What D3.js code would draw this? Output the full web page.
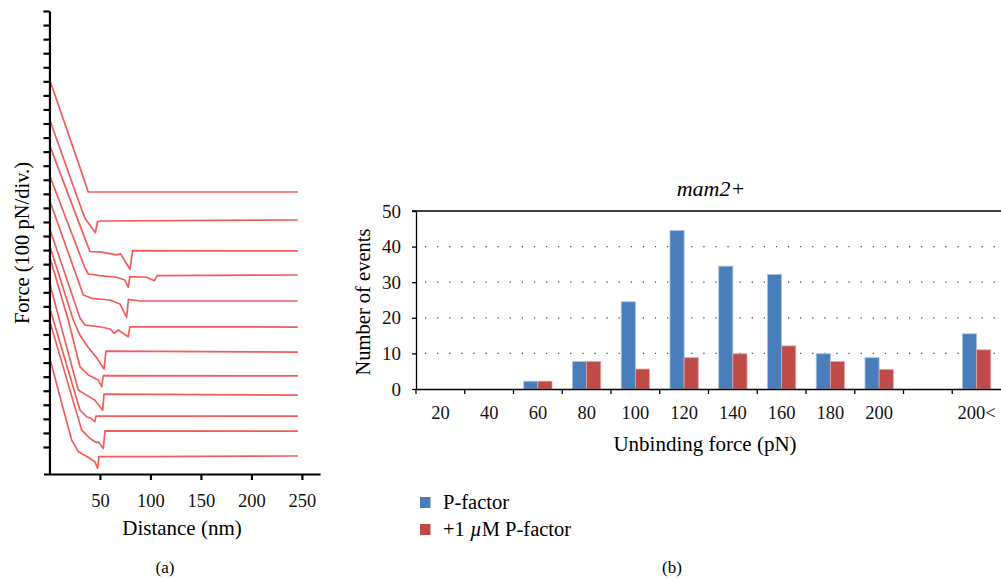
<!DOCTYPE html>
<html lang="en">
<head>
<meta charset="UTF-8">
<title>Force curves and unbinding force histogram</title>
<script src="https://d3js.org/d3.v7.min.js"></script>
<style>
    body { margin: 0; background: #fff; }
    svg { display: block; font-family: "Liberation Serif", "DejaVu Serif", serif; }
    .axis path, .axis line { stroke: #000; }
    .axis text { font-family: "Liberation Serif", serif; fill: #111; }
</style>
</head>
<body>
<svg id="chart" width="1001" height="580"></svg>
<script>
// ---- panel (a): force curves ----
const distTicks = [50, 100, 150, 200, 250];
const forceTicks = d3.range(100, 3201, 100);          // 100 pN per division
const baselines = [1913, 1714, 1494, 1323, 1138, 953, 775, 605, 469, 320, 213, 36];
// [distance nm, force pN above the curve's baseline]
const curves = [
    [[0, 804], [34, 95], [38.4, 0], [246, 0]],
    [[0, 718], [28.5, 142], [35, 14], [45.5, -90], [47.5, -14], [50, -7], [246, 0]],
    [[0, 754], [36.8, 57], [40.1, -4], [50, -7], [66.5, -28], [70.5, -21], [79.7, -130], [82.4, 2], [246, 0]],
    [[0, 711], [35.1, 50], [38.4, 7], [50, -5], [66.5, -16], [74.8, -36], [78, -87], [79.7, -12],
     [96.2, -16], [103.8, -41], [106.7, -4], [246, 0]],
    [[0, 718], [33.5, 43], [41.8, 19], [59.9, 7], [69.8, -21], [76.4, -116], [78.2, 11], [90, 0], [246, 0]],
    [[0, 704], [30.2, 64], [35.1, 14], [50, 2], [59.9, -14], [64.2, -45], [68.1, -21], [78, -69], [79.7, 2], [246, 0]],
    [[0, 761], [23.6, 228], [30.2, 121], [38.1, 36], [47, -43], [54, -121], [56, 7], [246, 0]],
    [[0, 853], [18.6, 398], [30.2, 66], [38.4, 7], [48.3, -28], [51.7, -76], [53.3, 2], [246, 0]],
    [[0, 803], [9.9, 533], [28.5, 36], [35.1, 7], [45, -36], [52.7, -107], [54, 7], [246, 0]],
    [[0, 775], [3.8, 683], [30.2, 43], [36.8, -5], [41.1, -16], [45, -40], [46, 0], [246, 0]],
    [[0, 789], [31.9, 7], [40.1, -52], [46.7, -83], [48.3, -76], [53.3, -123], [55, 2], [246, 0]],
    [[0, 706], [12.1, 375], [22, 114], [28.5, 31], [38.4, -9], [45, -41], [47.7, -87], [49, -5], [100, -5], [246, 0]]
];

// ---- panel (b): histogram ----
const forceBins = ["20", "40", "60", "80", "100", "120", "140", "160", "180", "200", "", "200<"];
const seriesNames = ["P-factor", "+1 µM P-factor"];
const pFactor = [0, 0, 2.2, 7.7, 24.5, 44.5, 34.5, 32.2, 9.9, 8.8, null, 15.5];
const pFactor1uM = [0, 0, 2.2, 7.7, 5.6, 8.8, 9.9, 12.1, 7.7, 5.5, null, 11.0];
const countTicks = [0, 10, 20, 30, 40, 50];
const gridTicks = [10, 20, 30, 40];
const colors = ["#4a7ebb", "#be4b48"];
const edgeColors = ["#a9c2e2", "#e3a3a1"];

const svg = d3.select("#chart");

// ===== (a) =====
const xDist = d3.scaleLinear().domain([-6, 268]).range([43.4, 320.1]);
const yForce = d3.scaleLinear().domain([-92, 3200]).range([474, 11]);

const gA = svg.append("g");

curves.forEach((pts, i) => {
    const line = d3.line()
        .x(d => xDist(d[0]))
        .y(d => yForce(baselines[i] + d[1]));
    gA.append("path")
        .attr("d", line(pts))
        .attr("fill", "none")
        .attr("stroke", "#f25c5c")
        .attr("stroke-width", 1.7)
        .attr("stroke-linejoin", "round");
});

gA.append("g")
    .attr("class", "axis")
    .attr("transform", `translate(${xDist(0)},0)`)
    .call(d3.axisLeft(yForce).tickValues(forceTicks).tickSize(6).tickSizeOuter(0).tickFormat(""))
    .call(g => g.selectAll("path, line").attr("stroke-width", 2.2));

gA.append("g")
    .attr("class", "axis")
    .attr("transform", `translate(0,${yForce(-92)})`)
    .call(d3.axisBottom(xDist).tickValues(distTicks).tickSize(6).tickSizeOuter(0).tickPadding(14))
    .call(g => g.selectAll("path, line").attr("stroke-width", 2.2))
    .call(g => g.selectAll("text").attr("font-size", 18.5));

gA.append("text")
    .attr("x", 182).attr("y", 535)
    .attr("text-anchor", "middle")
    .attr("font-size", 21)
    .text("Distance (nm)");

gA.append("text")
    .attr("transform", "translate(29,243) rotate(-90)")
    .attr("text-anchor", "middle")
    .attr("font-size", 20.5)
    .text("Force (100 pN/div.)");

gA.append("text")
    .attr("x", 165).attr("y", 573)
    .attr("text-anchor", "middle")
    .attr("font-size", 17)
    .text("(a)");

// ===== (b) =====
const x0 = d3.scaleBand().domain(forceBins).range([416, 1001]);
const x1 = d3.scaleBand().domain(seriesNames)
    .range([x0.bandwidth() * 0.21, x0.bandwidth() * 0.79]);
const yCount = d3.scaleLinear().domain([0, 50]).range([389, 211]);

const gB = svg.append("g");

// dotted grid
gB.selectAll(".grid")
    .data(gridTicks)
    .join("line")
    .attr("x1", 420).attr("x2", 1001)
    .attr("y1", d => yCount(d)).attr("y2", d => yCount(d))
    .attr("stroke", "#444")
    .attr("stroke-width", 1.2)
    .attr("stroke-dasharray", "1.2,10.9")
    .attr("stroke-dashoffset", -5);

// bars
const rows = forceBins.map((c, i) => ({ bin: c, values: [pFactor[i], pFactor1uM[i]] }));
gB.selectAll(".bin")
    .data(rows)
    .join("g")
    .attr("transform", d => `translate(${x0(d.bin)},0)`)
    .selectAll("rect")
    .data(d => d.values.map((v, k) => ({ v, k })).filter(e => e.v))
    .join("rect")
    .attr("x", e => x1(seriesNames[e.k]))
    .attr("width", x1.bandwidth())
    .attr("y", e => yCount(e.v))
    .attr("height", e => yCount(0) - yCount(e.v))
    .attr("fill", e => colors[e.k])
    .attr("stroke", e => edgeColors[e.k])
    .attr("stroke-width", 0.8);

// y axis
gB.append("g")
    .attr("class", "axis")
    .attr("transform", "translate(416,0)")
    .call(d3.axisLeft(yCount).tickValues(countTicks).tickSize(4).tickSizeOuter(0).tickPadding(11))
    .call(g => g.selectAll("path, line").attr("stroke-width", 1.3))
    .call(g => g.selectAll("text").attr("font-size", 19));

// top frame line
gB.append("line")
    .attr("x1", 412).attr("x2", 1001)
    .attr("y1", yCount(50)).attr("y2", yCount(50))
    .attr("stroke", "#000").attr("stroke-width", 1.3);

// x axis with labels centred in bins
gB.append("g")
    .attr("class", "axis")
    .attr("transform", `translate(0,${yCount(0)})`)
    .call(d3.axisBottom(x0).tickSize(0).tickSizeOuter(0).tickPadding(17))
    .call(g => g.select("path").attr("stroke-width", 1.3))
    .call(g => g.selectAll("text").attr("font-size", 18.5));

// bin boundary ticks
gB.selectAll(".btick")
    .data(forceBins)
    .join("line")
    .attr("x1", d => x0(d)).attr("x2", d => x0(d))
    .attr("y1", yCount(0)).attr("y2", yCount(0) + 5)
    .attr("stroke", "#000").attr("stroke-width", 1.3);

gB.append("text")
    .attr("x", 711).attr("y", 196)
    .attr("text-anchor", "middle")
    .attr("font-size", 22)
    .attr("font-style", "italic")
    .text("mam2+");

gB.append("text")
    .attr("transform", "translate(370,302) rotate(-90)")
    .attr("text-anchor", "middle")
    .attr("font-size", 20.5)
    .text("Number of events");

gB.append("text")
    .attr("x", 705).attr("y", 451)
    .attr("text-anchor", "middle")
    .attr("font-size", 21)
    .text("Unbinding force (pN)");

// legend
const legend = gB.selectAll(".legend")
    .data(seriesNames)
    .join("g")
    .attr("transform", (d, i) => `translate(420,${497 + i * 27})`);
legend.append("rect")
    .attr("width", 10.5).attr("height", 11)
    .attr("fill", (d, i) => colors[i]);
legend.append("text")
    .attr("x", 23).attr("y", 12)
    .attr("font-size", 20.5)
    .each(function(d, i) {
        const t = d3.select(this);
        if (i === 0) { t.text(d); return; }
        t.append("tspan").text("+1 ");
        t.append("tspan").attr("font-style", "italic").text("µ");
        t.append("tspan").text("M P-factor");
    });

gB.append("text")
    .attr("x", 672).attr("y", 573)
    .attr("text-anchor", "middle")
    .attr("font-size", 17)
    .text("(b)");
</script>
</body>
</html>
